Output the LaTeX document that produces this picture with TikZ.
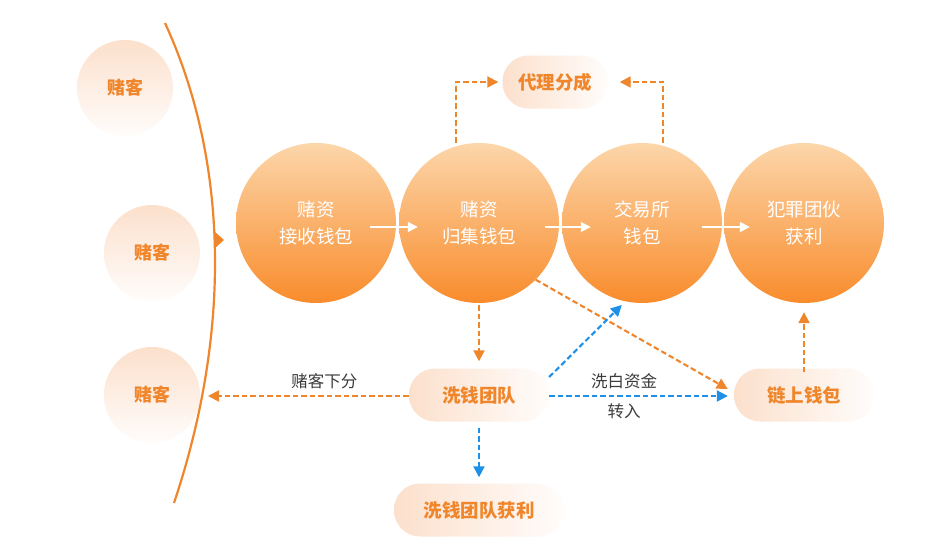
\documentclass[tikz,border=0pt]{standalone}
\usepackage{fontspec}
\setmainfont{Noto Sans CJK SC}
\usetikzlibrary{arrows.meta}
\definecolor{org}{RGB}{240,134,44}
\definecolor{orgtop}{RGB}{252,214,170}
\definecolor{orgbot}{RGB}{249,140,44}
\definecolor{peach}{RGB}{252,224,204}
\definecolor{blu}{RGB}{30,144,232}
\definecolor{txt}{RGB}{60,60,60}
\begin{document}
\begin{tikzpicture}[x=1pt,y=-1pt,
 big/.style={circle,minimum size=160pt,inner sep=0pt,top color=orgtop,bottom color=orgbot,text=white,font=\fontsize{18.5}{27}\selectfont,align=center},
 who/.style={circle,minimum size=96pt,inner sep=0pt,top color=peach,bottom color=peach!8,text=org,font=\fontsize{18}{22}\selectfont\bfseries},
 pill/.style={rounded corners=26pt,minimum height=53pt,inner sep=0pt,left color=peach,right color=peach!8,text=org,font=\fontsize{18.5}{22}\selectfont\bfseries},
 od/.style={org,line width=2.1pt,dash pattern=on 5.5pt off 3pt,-{Triangle[length=11pt,width=11pt]}},
 bd/.style={od,blu},
 wa/.style={white,line width=1.6pt,-{Triangle[length=10pt,width=10pt]}},
 lbl/.style={text=txt,font=\fontsize{16.5}{20}\selectfont}]
\path[fill=white] (0,0) rectangle (930,555);
\node[who] (g1) at (125,88) {赌客};\node[who] (g2) at (152,253) {赌客};\node[who] (g3) at (152,395) {赌客};
\draw[org,line width=2.2pt] (165,23) .. controls (228,160) and (232,330) .. (174,503);
\fill[org] (214,231)--(224,240)--(214,249)--cycle;
\node[big] (recv) at (316,223) {赌资\\接收钱包};\node[big] (pool) at (479,223) {赌资\\归集钱包};
\node[big] (exch) at (642,223) {交易所\\钱包};\node[big] (crime) at (804,223) {犯罪团伙\\获利};
\node[pill,minimum width=105pt] (agent) at (555,82) {代理分成};
\node[pill,minimum width=140pt] (wash) at (479,395) {洗钱团队};
\node[pill,minimum width=140pt] (chain) at (804,395) {链上钱包};
\node[pill,minimum width=170pt] (gain) at (479,510) {洗钱团队获利};
\coordinate (hit) at (208,396);
% white arrows between the wallets
\draw[wa] ([xshift=-26pt,yshift=-4pt]recv.east) -- ([xshift=19pt,yshift=-4pt]pool.west);
\draw[wa] ([xshift=-14pt,yshift=-4pt]pool.east) -- ([xshift=29pt,yshift=-4pt]exch.west);
\draw[wa] ([xshift=-20pt,yshift=-4pt]exch.east) -- ([xshift=26pt,yshift=-4pt]crime.west);
% dashed flows
\draw[od] ([xshift=-23pt]pool.north) |- ([xshift=-4pt]agent.west);
\draw[od] ([xshift=21pt]exch.north) |- ([xshift=12pt]agent.east);
\draw[od] ([yshift=-2pt]pool.south) -- ([yshift=7pt]wash.north);
\draw[od] ([yshift=-1pt]wash.west) -- (hit) node[lbl,pos=.42,above=3pt]{赌客下分};
\draw[od] (pool.-45) -- ([xshift=-6pt,yshift=6pt]chain.west);
\draw[od] ([yshift=-4pt]chain.north) -- ([yshift=-9pt]crime.south);
\draw[bd] ([yshift=-1pt]wash.east) -- ([xshift=-6pt,yshift=-1pt]chain.west) node[lbl,pos=.42,above=3pt]{洗白资金} node[lbl,pos=.42,below=3pt]{转入};
\draw[bd,shorten >=5pt] ([yshift=18pt]wash.east) -- (exch.-102);
\draw[bd] ([yshift=-6pt]wash.south) -- ([yshift=6pt]gain.north);
\end{tikzpicture}
\end{document}
